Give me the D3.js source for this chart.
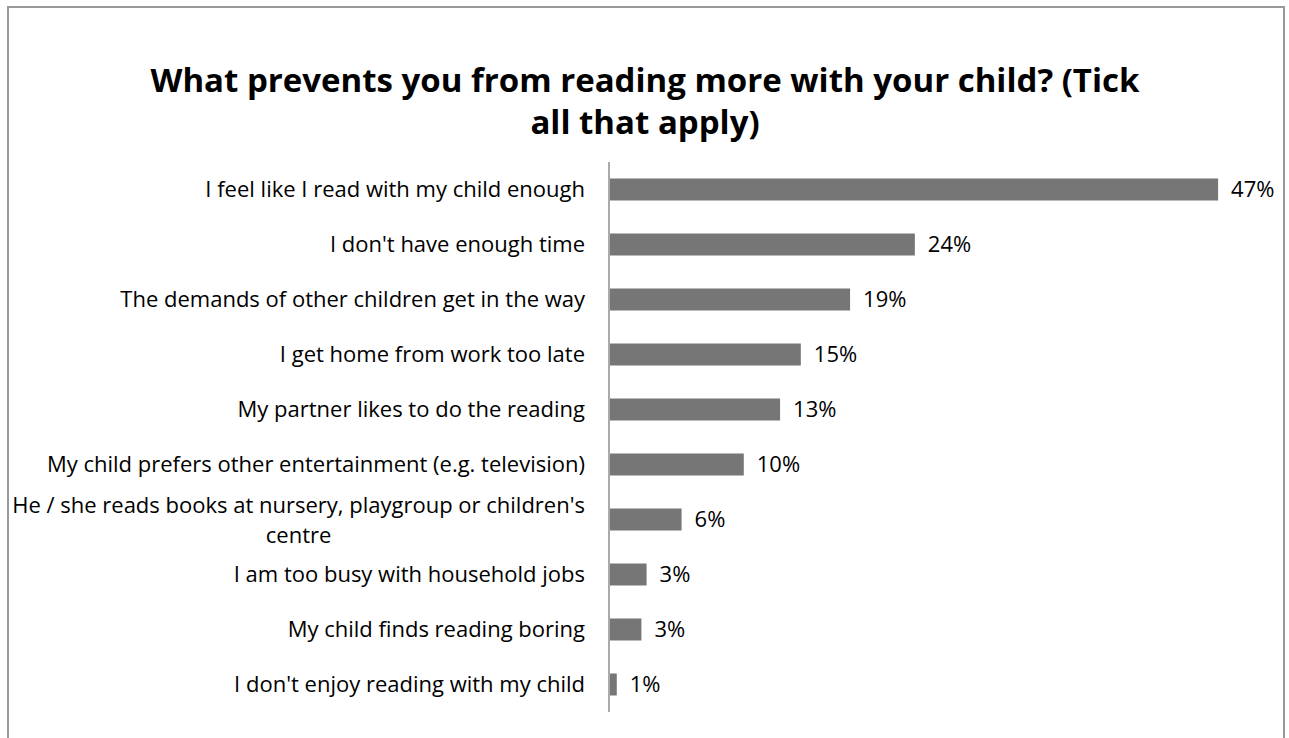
<!DOCTYPE html>
<html>
<head>
<meta charset="utf-8">
<script src="https://cdn.jsdelivr.net/npm/d3@7"></script>
<style>
  html, body { margin: 0; padding: 0; background: #fff; }
  svg { display: block; }
  text { font-family: "Open Sans", sans-serif; fill: #000; }
</style>
</head>
<body>
<svg id="chart" width="1289" height="738"></svg>
<script>
// Survey answers, in display order (top to bottom)
const categories = [
  "I feel like I read with my child enough",
  "I don't have enough time",
  "The demands of other children get in the way",
  "I get home from work too late",
  "My partner likes to do the reading",
  "My child prefers other entertainment (e.g. television)",
  "He / she reads books at nursery, playgroup or children's centre",
  "I am too busy with household jobs",
  "My child finds reading boring",
  "I don't enjoy reading with my child"
];
// Share of respondents choosing each answer
const shares = [0.47, 0.236, 0.186, 0.148, 0.132, 0.104, 0.056, 0.029, 0.025, 0.006];
const titleLines = [
  "What prevents you from reading more with your child? (Tick",
  "all that apply)"
];

const svg = d3.select("#chart");
const W = 1289, H = 738;

// chart frame
svg.append("rect")
  .attr("x", 8).attr("y", 7)
  .attr("width", 1276).attr("height", H + 10)
  .attr("fill", "#fff")
  .attr("stroke", "#999").attr("stroke-width", 2);

// title
svg.append("text")
  .attr("x", 645).attr("y", 92)
  .attr("text-anchor", "middle")
  .style("font-size", "33px").style("font-weight", "bold")
  .selectAll("tspan").data(titleLines).join("tspan")
  .attr("x", 645).attr("dy", (d, i) => i === 0 ? 0 : 42)
  .text(d => d);

const data = categories.map((c, i) => ({ cat: c, v: shares[i] }));

const x = d3.scaleLinear().domain([0, 0.5]).range([609, 1257]);
const y = d3.scaleBand().domain(categories).range([162, 712]).paddingInner(0.6).paddingOuter(0.3);

// bars
svg.append("g").selectAll("rect").data(data).join("rect")
  .attr("x", x(0))
  .attr("y", d => y(d.cat))
  .attr("width", d => x(d.v) - x(0))
  .attr("height", y.bandwidth())
  .attr("fill", "#767676");

// value labels
const fmt = d3.format(".0%");
svg.append("g").selectAll("text").data(data).join("text")
  .attr("x", d => x(d.v) + 13)
  .attr("y", d => y(d.cat) + y.bandwidth() / 2)
  .attr("dy", "0.35em")
  .style("font-size", "22px")
  .text(d => fmt(d.v));

// category axis
const pad = 24;
const yAxis = svg.append("g")
  .attr("transform", `translate(${x(0)},0)`)
  .call(d3.axisLeft(y).tickSize(0).tickPadding(pad));
yAxis.select(".domain").attr("stroke", "#aaa").attr("stroke-width", 2)
  .attr("d", "M0,162V712");
yAxis.selectAll(".tick text")
  .style("font-size", "22px")
  .attr("fill", "#000")
  .each(function () {
    // wrap long labels onto two centred lines
    const t = d3.select(this);
    const full = t.text();
    const maxW = 575;
    if (this.getComputedTextLength() <= maxW) return;
    const words = full.split(" ");
    let line1 = [];
    let rest = [...words];
    t.text(null);
    const probe = t.append("tspan");
    while (rest.length) {
      probe.text([...line1, rest[0]].join(" "));
      if (probe.node().getComputedTextLength() > maxW) break;
      line1.push(rest.shift());
    }
    probe.remove();
    const w1 = line1.join(" ");
    t.attr("text-anchor", "middle");
    const tmp = t.append("tspan").text(w1);
    const len1 = tmp.node().getComputedTextLength();
    tmp.remove();
    const cx = -pad - len1 / 2;
    t.append("tspan").attr("x", cx).attr("dy", "-0.3em").text(w1);
    t.append("tspan").attr("x", cx).attr("dy", "1.35em").text(rest.join(" "));
  });
</script>
</body>
</html>
